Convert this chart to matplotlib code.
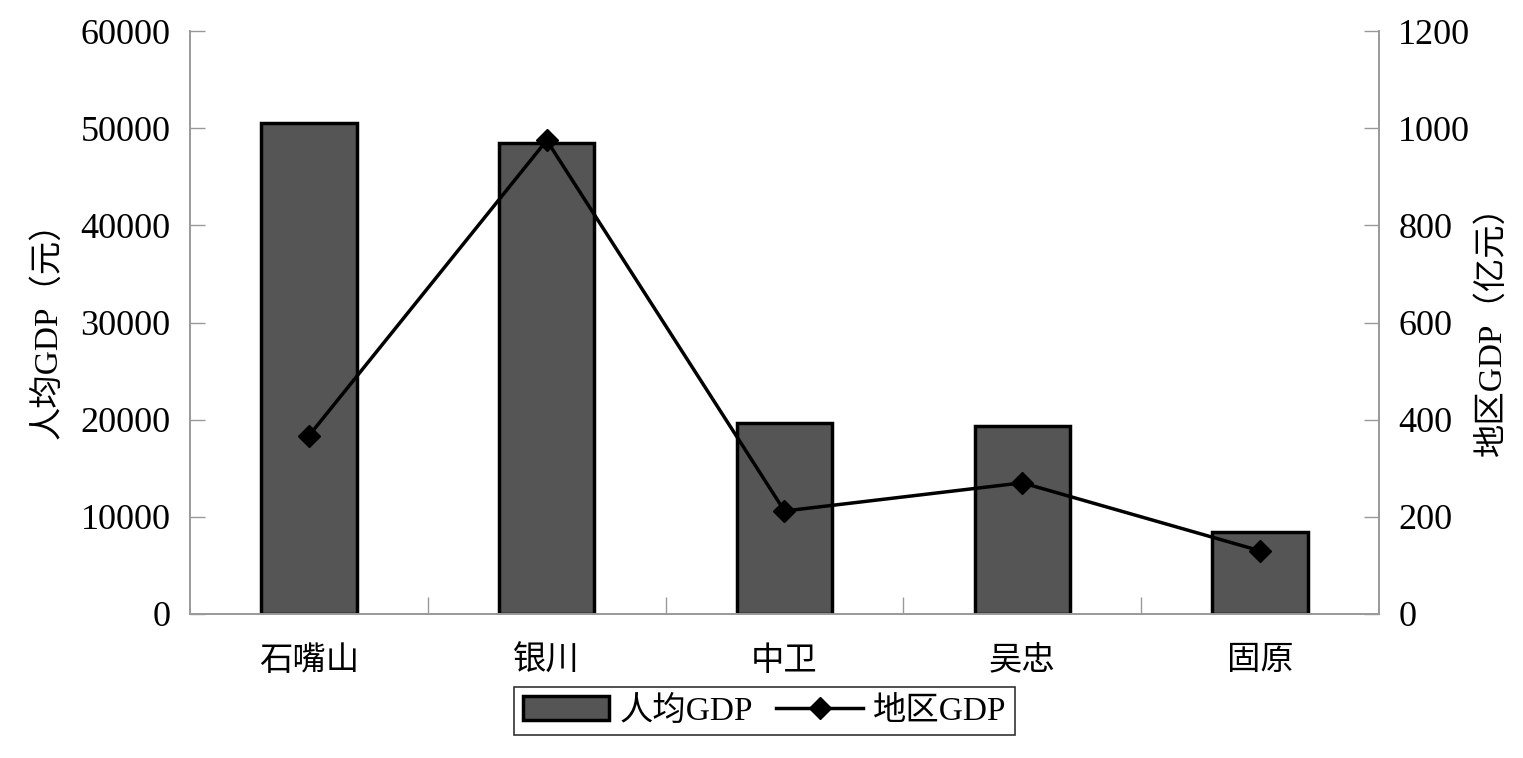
import matplotlib
matplotlib.use("Agg")
import matplotlib.pyplot as plt
from matplotlib.lines import Line2D
from matplotlib.patches import Patch
import numpy as np

categories = ["石嘴山", "银川", "中卫", "吴忠", "固原"]
per_capita_gdp = [50500, 48500, 19700, 19400, 8400]
regional_gdp = [367, 975, 212, 270, 130]
left_ticks = [0, 10000, 20000, 30000, 40000, 50000, 60000]
right_ticks = [0, 200, 400, 600, 800, 1000, 1200]

FAM = ["Liberation Serif", "Noto Sans CJK SC"]
plt.rcParams['font.family'] = FAM
plt.rcParams['axes.unicode_minus'] = False

fig = plt.figure(figsize=(15.23, 7.58), dpi=100)
ax = fig.add_axes([0.1248, 0.19, 0.9054 - 0.1248, 0.959 - 0.19])
ax2 = ax.twinx()

x = np.arange(len(categories))
ax.bar(x, per_capita_gdp, width=0.40, color="#555555", edgecolor="black", linewidth=2.5, zorder=2)
ax2.plot(x, regional_gdp, color="black", linewidth=2.5, marker="D", markersize=11, zorder=3)

ax.set_xlim(-0.5, len(categories) - 0.5)
ax.set_ylim(0, 60000)
ax2.set_ylim(0, 1200)
ax.set_yticks(left_ticks)
ax2.set_yticks(right_ticks)
ax.set_yticklabels([str(t) for t in left_ticks], fontsize=26)
ax2.set_yticklabels([str(t) for t in right_ticks], fontsize=26)

ax.set_xticks(x)
ax.set_xticklabels(categories, fontsize=24)
ax.set_xticks(np.arange(0.5, len(categories) - 0.5, 1), minor=True)
ax.tick_params(axis="x", which="major", length=0, pad=23)
ax.tick_params(axis="x", which="minor", direction="in", length=12, color="#999999", width=1)
ax.tick_params(axis="y", direction="in", length=11, color="#999999", width=1, pad=14)
ax2.tick_params(axis="y", direction="in", length=11, color="#999999", width=1, pad=14)

for a in (ax, ax2):
    a.spines["top"].set_visible(False)
    for s in ("left", "right", "bottom"):
        a.spines[s].set_color("#999999")
        a.spines[s].set_linewidth(1.2)

ax.set_ylabel("人均GDP（元）", fontsize=24, labelpad=12)
ax2.set_ylabel("地区GDP（亿元）", fontsize=24, labelpad=4, rotation=90)

handles = [Patch(facecolor="#555555", edgecolor="black", linewidth=2.5),
           Line2D([0], [0], color="black", linewidth=2.5, marker="D", markersize=11)]
fig.legend(handles, ["人均GDP", "地区GDP"], loc="center", bbox_to_anchor=(0.502, 0.062),
           ncol=2, fontsize=24, frameon=True, fancybox=False, edgecolor="black",
           handlelength=2.6, handletextpad=0.3, columnspacing=0.7, borderpad=0.25)
leg = fig.legends[0]
leg.get_frame().set_linewidth(1.2)

fig.savefig("out.png", dpi=100)
